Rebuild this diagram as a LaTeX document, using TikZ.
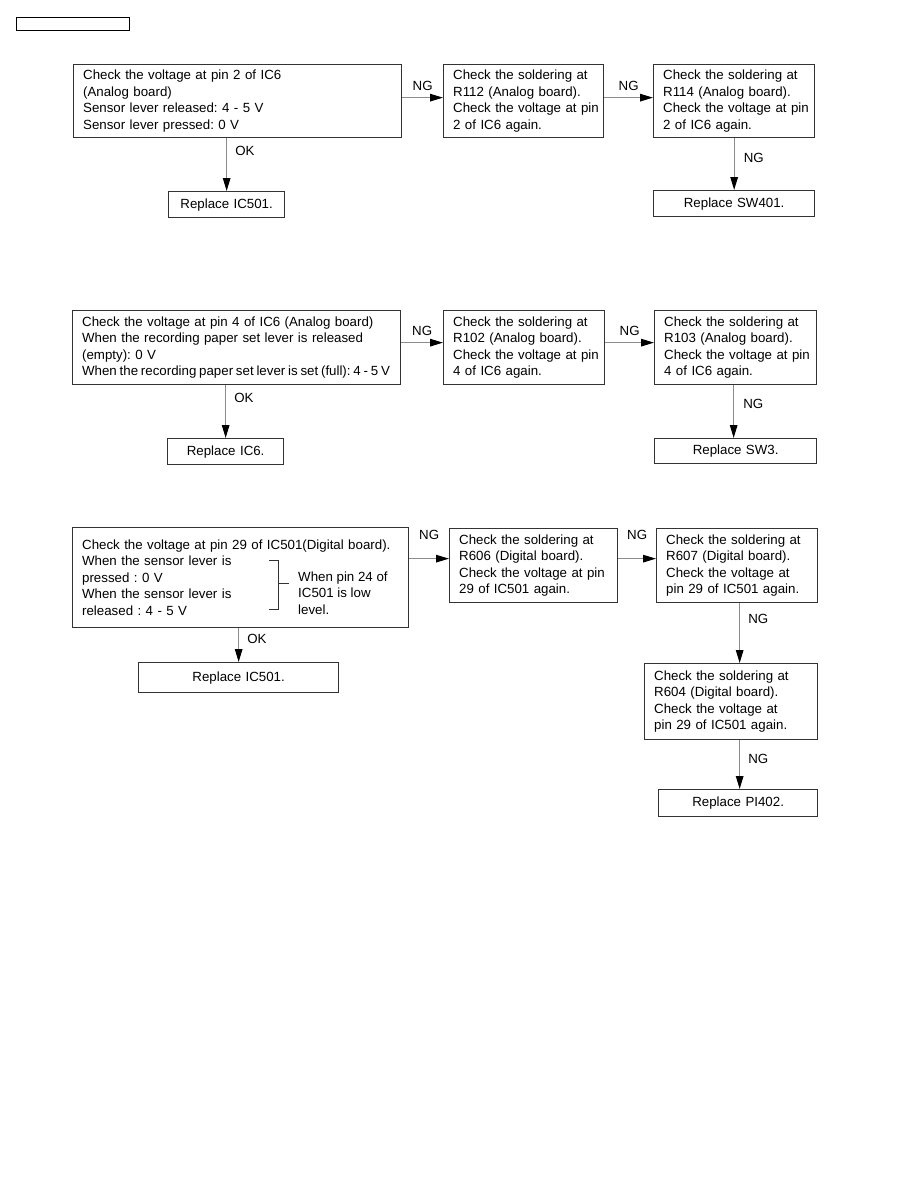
\documentclass[tikz,border=0pt]{standalone}
\usepackage{fontspec}
\setmainfont{Liberation Sans}
\usetikzlibrary{arrows.meta,positioning,calc}
\definecolor{frame}{HTML}{333333}
\definecolor{wire}{HTML}{8C8C8C}
\newcommand{\diagfont}{\fontsize{13.3}{16.5}\selectfont\frenchspacing}

\begin{document}
\begin{tikzpicture}[x=1pt,y=-1pt,every node/.style={font=\diagfont},base/.style={draw=frame,line width=1.3pt,anchor=north west,inner xsep=6pt,inner ysep=1pt},box/.style={base,align=left,execute at begin node={\leftskip=3.5pt\rightskip=-40pt plus 1fil}},rbox/.style={base,align=center},conn/.style={draw=wire,line width=1.3pt,-{Triangle[length=13pt,width=7.5pt,color=black]}},tag/.style={inner sep=1pt}]
\useasboundingbox (0,0) rectangle (918,1188);
\node[draw=black,line width=1.2pt,anchor=north west,minimum width=113pt,minimum height=13pt,inner sep=0pt] (hdr) at (16,17) {};
\node[box,text width=316pt,minimum height=73pt] (chk1) at (73,64) {Check the voltage at pin 2 of IC6\\(Analog board)\\Sensor lever released: 4 - 5 V\\Sensor lever pressed: 0 V};
\node[box,text width=148pt,minimum height=73pt] (r112) at (443,64) {Check the soldering at\\R112 (Analog board).\\Check the voltage at pin\\2 of IC6 again.};
\node[box,text width=149pt,minimum height=73pt] (r114) at (653,64) {Check the soldering at\\R114 (Analog board).\\Check the voltage at pin\\2 of IC6 again.};
\node[rbox,text width=149pt,minimum height=26pt] (sw401) at (653,190) {Replace SW401.};
\node[rbox,text width=104pt,minimum height=26pt] (ic501a) at (168,191) {Replace IC501.};
\draw[conn] ([yshift=3.5pt]chk1.east) -- ([yshift=3.5pt]r112.west) node[midway,above=5pt,tag] {NG};
\draw[conn] ([yshift=3.5pt]r112.east) -- ([yshift=3.5pt]r114.west) node[midway,above=5pt,tag] {NG};
\draw[conn] (r114.south) -- (sw401.north) node[pos=.38,right=8pt,tag] {NG};
\draw[conn] (chk1.south -| ic501a.north) -- (ic501a.north) node[pos=.24,right=7pt,tag] {OK};
\node[box,text width=316pt,minimum height=74pt] (chk2) at (72,310) {Check the voltage at pin 4 of IC6 (Analog board)\\When the recording paper set lever is released\\(empty): 0 V\\{\spaceskip=0.21em\relax When the recording paper set lever is set (full): 4 - 5 V}};
\node[box,text width=149pt,minimum height=74pt] (r102) at (443,310) {Check the soldering at\\R102 (Analog board).\\Check the voltage at pin\\4 of IC6 again.};
\node[box,text width=150pt,minimum height=74pt] (r103) at (654,310) {Check the soldering at\\R103 (Analog board).\\Check the voltage at pin\\4 of IC6 again.};
\node[rbox,text width=150pt,minimum height=25pt] (sw3) at (654,438) {Replace SW3.};
\node[rbox,text width=104pt,minimum height=26pt] (ic6) at (167,438) {Replace IC6.};
\draw[conn] ([yshift=5pt]chk2.east) -- ([yshift=5pt]r102.west) node[midway,above=5pt,tag] {NG};
\draw[conn] ([yshift=5pt]r102.east) -- ([yshift=5pt]r103.west) node[midway,above=5pt,tag] {NG};
\draw[conn] ([xshift=-2pt]r103.south) -- ([xshift=-2pt]sw3.north) node[pos=.36,right=8pt,tag] {NG};
\draw[conn] (chk2.south -| ic6.north) -- (ic6.north) node[pos=.24,right=7pt,tag] {OK};
\node[box,text width=324pt,minimum height=100pt] (chk3) at (72,527) {Check the voltage at pin 29 of IC501(Digital board).\\When the sensor lever is\\pressed : 0 V\\When the sensor lever is\\released : 4 - 5 V};
\draw[frame,line width=1pt] (269,560) -- (278,560) -- (278,609) -- (269,609);
\draw[frame,line width=1pt] (278,583) -- (289,583);
\node[anchor=west,align=left,inner sep=0pt] (pin24) at (298,593) {When pin 24 of\\IC501 is low\\level.};
\node[box,text width=156pt,minimum height=74pt] (r606) at (449,528) {Check the soldering at\\R606 (Digital board).\\Check the voltage at pin\\29 of IC501 again.};
\node[box,text width=149pt,minimum height=74pt] (r607) at (656,528) {Check the soldering at\\R607 (Digital board).\\Check the voltage at\\pin 29 of IC501 again.};
\node[box,text width=161pt,minimum height=76pt] (r604) at (644,663) {Check the soldering at\\R604 (Digital board).\\Check the voltage at\\pin 29 of IC501 again.};
\node[rbox,text width=147pt,minimum height=27pt] (pi402) at (658,789) {Replace PI402.};
\node[rbox,text width=188pt,minimum height=30pt] (ic501b) at (138,662) {Replace IC501.};
\draw[conn] ([yshift=7pt]r606.west -| chk3.east) -- ([yshift=7pt]r606.west) node[midway,above=17pt,tag] {NG};
\draw[conn] ([yshift=7pt]r606.east) -- ([yshift=7pt]r607.west) node[midway,above=17pt,tag] {NG};
\draw[conn] ([xshift=2.5pt]r607.south) -- ([xshift=2.5pt]r607.south |- r604.north) node[pos=.26,right=7pt,tag] {NG};
\draw[conn] ([xshift=1.5pt]pi402.north |- r604.south) -- ([xshift=1.5pt]pi402.north) node[pos=.38,right=7pt,tag] {NG};
\draw[conn] (chk3.south -| ic501b.north) -- (ic501b.north) node[pos=.31,right=7pt,tag] {OK};
\end{tikzpicture}
\end{document}
